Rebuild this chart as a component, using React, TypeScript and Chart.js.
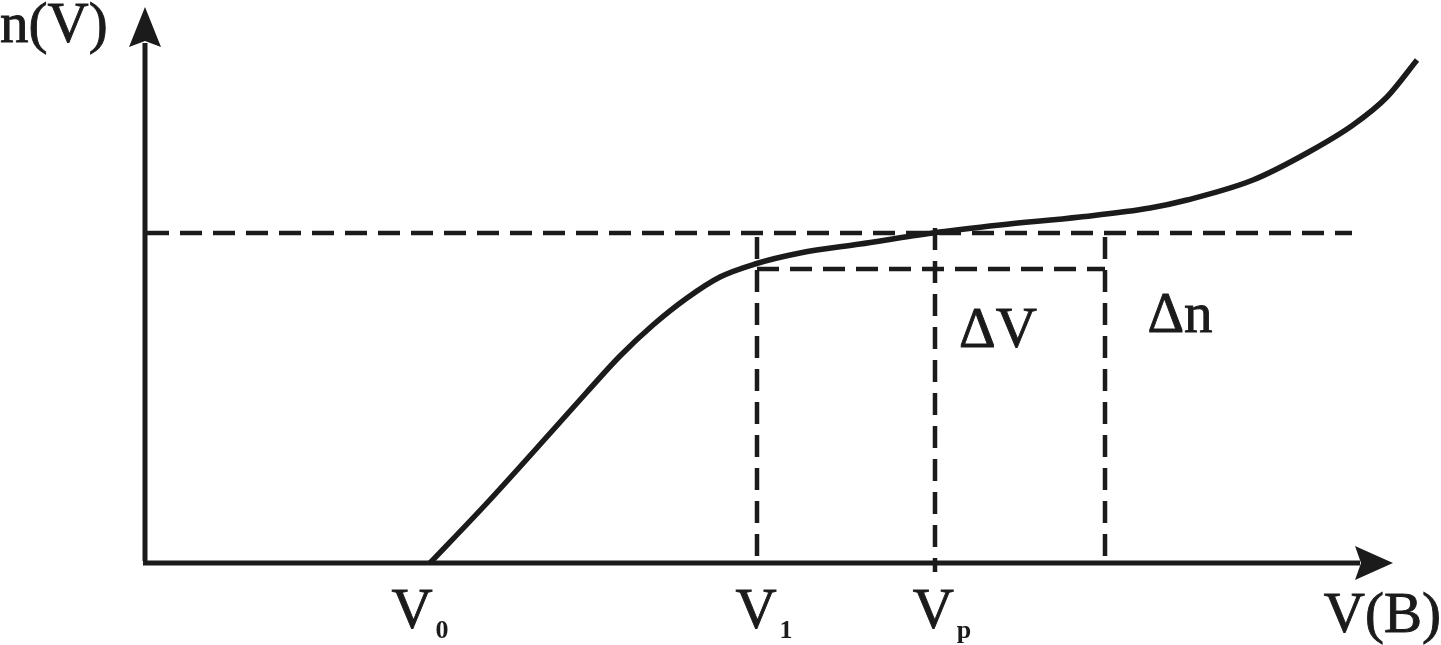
import React, { useEffect, useRef } from "react";
import { Chart, registerables } from "chart.js";

Chart.register(...registerables);

// Curve n(V) (arbitrary units, origin at axes corner)
const curveX = [285, 342, 408, 442, 475, 508, 542, 575, 610, 655, 715, 788, 855, 935, 1005, 1042, 1108, 1162, 1208, 1242, 1272];
const curveY = [0, 60, 133, 171, 207, 238, 265, 286, 299, 310, 319, 330, 338, 346, 355, 363, 383, 410, 438, 466, 503];

// Marked voltages on the V axis
const markV = [612, 790, 960]; // V1, Vp, V1+ΔV
const tickLabels = ["V", "V", "V"];
const tickSubs = ["0", "1", "p"];
const tickAt = [275, 619, 797];

// Marked n levels
const nLevels = [330, 294];
const levelEnds = [1207, 960];

const INK = "#1b1b1b";
const SERIF = '"Liberation Serif", "DejaVu Serif", serif';

const overlay = {
  id: "overlay",
  afterDatasetsDraw(chart: any) {
    const { ctx, scales } = chart;
    const xs = scales.x;
    const ys = scales.y;
    const px = (v: number) => xs.getPixelForValue(v);
    const py = (v: number) => ys.getPixelForValue(v);
    ctx.save();
    ctx.fillStyle = INK;
    ctx.strokeStyle = INK;
    // y arrow
    const ax = px(0);
    const topY = py(556);
    ctx.beginPath();
    ctx.moveTo(ax, topY);
    ctx.lineTo(ax + 16, topY + 40);
    ctx.lineTo(ax, topY + 34);
    ctx.lineTo(ax - 16, topY + 40);
    ctx.closePath();
    ctx.fill();
    // x arrow
    const ay = py(0);
    const tipX = px(1248);
    ctx.beginPath();
    ctx.moveTo(tipX, ay);
    ctx.lineTo(tipX - 38, ay - 17);
    ctx.lineTo(tipX - 32, ay);
    ctx.lineTo(tipX - 38, ay + 17);
    ctx.closePath();
    ctx.fill();

    const txt = (s: string, x: number, y: number) => {
      ctx.fillText(s, x, y);
      ctx.lineWidth = 0.9;
      ctx.strokeText(s, x, y);
    };

    ctx.textBaseline = "alphabetic";
    ctx.font = `57px ${SERIF}`;
    ctx.textAlign = "left";
    txt("n(V)", px(-145), py(521));
    ctx.textAlign = "right";
    txt("V(B)", px(1296), py(-69));
    ctx.textAlign = "center";
    txt("\u0394V", px(853), py(216));
    txt("\u0394n", px(1035), py(231));

    // tick labels with bold subscripts
    for (let i = 0; i < tickLabels.length; i++) {
      ctx.font = `57px ${SERIF}`;
      const w1 = ctx.measureText(tickLabels[i]).width;
      ctx.font = `bold 26px ${SERIF}`;
      const w2 = ctx.measureText(tickSubs[i]).width;
      const left = px(tickAt[i]) - (w1 + w2 + 3) / 2;
      ctx.textAlign = "left";
      ctx.font = `57px ${SERIF}`;
      txt(tickLabels[i], left, py(-65));
      ctx.font = `bold 26px ${SERIF}`;
      ctx.fillText(tickSubs[i], left + w1 + 3, py(-75));
    }
    ctx.restore();
  },
};

export default function App() {
  const ref = useRef<HTMLCanvasElement | null>(null);
  useEffect(() => {
    if (!ref.current) return;
    const curve = curveX.map((x, i) => ({ x, y: curveY[i] }));
    const dashed = { borderColor: INK, borderWidth: 4.5, borderDash: [22, 11], pointRadius: 0, fill: false, tension: 0 };
    const solid = { borderColor: INK, borderWidth: 5, pointRadius: 0, fill: false, tension: 0 };
    const chart = new Chart(ref.current, {
      type: "scatter",
      data: {
        datasets: [
          { ...dashed, showLine: true, data: [{ x: 2, y: nLevels[0] }, { x: levelEnds[0], y: nLevels[0] }] } as any,
          { ...dashed, showLine: true, data: [{ x: markV[0], y: nLevels[1] }, { x: levelEnds[1], y: nLevels[1] }] } as any,
          { ...dashed, showLine: true, data: [{ x: markV[0], y: nLevels[0] - 4 }, { x: markV[0], y: 0 }] } as any,
          { ...dashed, showLine: true, data: [{ x: markV[1], y: nLevels[0] + 5 }, { x: markV[1], y: -9 }] } as any,
          { ...dashed, showLine: true, data: [{ x: markV[2], y: nLevels[0] - 4 }, { x: markV[2], y: 0 }] } as any,
          { ...solid, showLine: true, data: [{ x: -2, y: 0 }, { x: 1215, y: 0 }] } as any,
          { ...solid, showLine: true, data: [{ x: 0, y: 2 }, { x: 0, y: 520 }] } as any,
          {
            borderColor: INK,
            borderWidth: 5.5,
            pointRadius: 0,
            showLine: true,
            fill: false,
            cubicInterpolationMode: "monotone",
            data: curve,
          } as any,
        ],
      },
      options: {
        animation: false,
        responsive: false,
        maintainAspectRatio: false,
        layout: { padding: 0 },
        plugins: { legend: { display: false }, tooltip: { enabled: false } },
        events: [],
        scales: {
          x: { type: "linear", min: -145, max: 1296, display: false },
          y: { type: "linear", min: -82, max: 563, display: false },
        },
      },
      plugins: [overlay],
    });
    return () => chart.destroy();
  }, []);
  return (
    <div style={{ position: "fixed", left: 0, top: 0, width: 1441, height: 645, background: "#fff" }}>
      <canvas ref={ref} width={1441} height={645} style={{ width: 1441, height: 645, display: "block" }} />
    </div>
  );
}
